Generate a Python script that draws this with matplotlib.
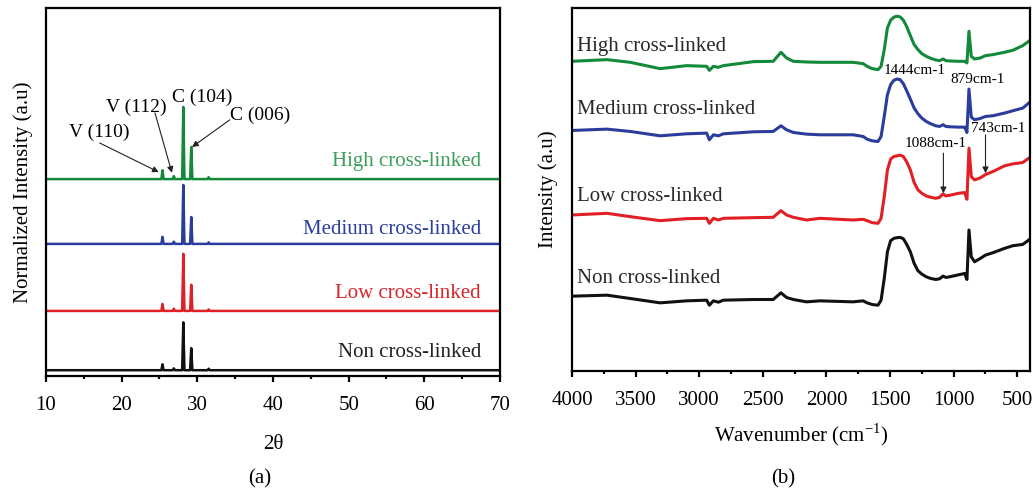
import numpy as np
import matplotlib
matplotlib.use("Agg")
import matplotlib.pyplot as plt
from matplotlib.ticker import MultipleLocator

plt.rcParams['font.family'] = ['Liberation Serif', 'DejaVu Serif']
plt.rcParams['mathtext.fontset'] = 'custom'
plt.rcParams['mathtext.rm'] = 'Liberation Serif'

samples = ['Non cross-linked', 'Low cross-linked', 'Medium cross-linked', 'High cross-linked']

# XRD: peak intensities on a sparse 2-theta grid (background = 0)
two_theta = [10, 25.25, 25.4, 25.55, 26.75, 26.9, 27.05, 28.0, 28.15, 28.3,
             29.05, 29.2, 29.35, 31.35, 31.5, 31.65, 70]
xrd_non = [0, 0, 1.6, 0, 0, 0.5, 0, 0, 13.0, 0, 0, 6.0, 0, 0, 0.4, 0, 0]
xrd_low = [0, 0, 1.9, 0, 0, 0.6, 0, 0, 15.5, 0, 0, 7.1, 0, 0, 0.4, 0, 0]
xrd_med = [0, 0, 1.9, 0, 0, 0.6, 0, 0, 16.0, 0, 0, 7.3, 0, 0, 0.4, 0, 0]
xrd_high = [0, 0, 2.4, 0, 0, 0.8, 0, 0, 19.6, 0, 0, 8.7, 0, 0, 0.5, 0, 0]

# FTIR spectra (stacked, a.u.)
wavenumber = [4000, 3725, 3542, 3307, 3098, 2941, 2920, 2888, 2849, 2810,
              2574, 2418, 2357, 2313, 2260, 2156, 2051, 1790, 1711, 1680,
              1640, 1594, 1570, 1545, 1520, 1495, 1470, 1445, 1420, 1395,
              1370, 1340, 1310, 1280, 1250, 1215, 1180, 1140, 1110, 1083,
              1060, 1031, 960, 913, 895, 879, 861, 835, 790, 749,
              691, 600, 534, 456, 409]
ftir_high = [927, 932, 924, 905, 914, 912, 900, 912, 909, 914,
             926, 927, 954, 937, 927, 925, 924, 924, 920, 912,
             905, 902, 912, 962, 1027, 1050, 1059, 1062, 1060, 1050,
             1032, 1004, 977, 962, 950, 942, 936, 931, 929, 934,
             929, 928, 927, 927, 922, 1017, 942, 934, 937, 944,
             947, 954, 960, 974, 987]
ftir_med = [720, 724, 717, 704, 710, 712, 692, 707, 704, 710,
            716, 717, 734, 722, 714, 709, 707, 707, 702, 694,
            689, 687, 702, 762, 827, 857, 870, 874, 872, 860,
            840, 814, 787, 770, 757, 747, 740, 734, 732, 737,
            732, 731, 730, 730, 714, 844, 760, 752, 756, 762,
            764, 772, 779, 787, 802]
ftir_low = [467, 472, 462, 450, 456, 457, 442, 457, 452, 457,
            459, 460, 480, 467, 460, 452, 457, 452, 454, 450,
            444, 442, 457, 522, 602, 634, 642, 644, 646, 642,
            627, 602, 564, 542, 532, 524, 520, 517, 520, 530,
            524, 526, 532, 534, 514, 667, 582, 572, 578, 588,
            597, 614, 620, 624, 637]
ftir_non = [224, 227, 217, 204, 210, 212, 197, 210, 206, 212,
            214, 214, 234, 220, 214, 207, 210, 207, 210, 204,
            199, 197, 212, 277, 357, 390, 397, 399, 400, 396,
            380, 357, 322, 300, 290, 282, 277, 274, 276, 284,
            280, 282, 288, 292, 274, 422, 342, 327, 337, 347,
            354, 367, 375, 379, 392]

line_colors = ['#111111', '#e02024', '#2a3c9c', '#13893a']
label_colors = ['#222222', '#d9262b', '#2b3f9e', '#3c9f5a']
xrd_offsets = [1.6, 17.7, 35.9, 53.5]
xrd_label_y = [6.5, 22.3, 39.7, 58.2]
ftir_label_y = [277, 522, 782, 972]

fig = plt.figure(figsize=(10.33, 4.91), dpi=100)
ax1 = fig.add_axes([0.0445, 0.234, 0.4395, 0.750])
ax2 = fig.add_axes([0.5537, 0.2444, 0.4433, 0.7396])

for ax in (ax1, ax2):
    for sp in ax.spines.values():
        sp.set_linewidth(1.6)
    ax.tick_params(axis='x', which='both', direction='out', width=1.6,
                   labelsize=15, top=False, pad=10)
    ax.tick_params(axis='x', which='major', length=4.5)
    ax.tick_params(axis='x', which='minor', length=2.5)
    ax.set_yticks([])

# (a) XRD
for y, off, c in zip([xrd_non, xrd_low, xrd_med, xrd_high], xrd_offsets, line_colors):
    ax1.plot(two_theta, np.array(y) + off, color=c, lw=1.8)
for name, ly, c in zip(samples, xrd_label_y, label_colors):
    ax1.text(67.5, ly, name, color=c, fontsize=15, ha='right', va='center')

ax1.set_xlim(10, 70)
ax1.set_ylim(0, 100)
ax1.xaxis.set_major_locator(MultipleLocator(10))
ax1.xaxis.set_minor_locator(MultipleLocator(5))
ax1.set_xlabel('2θ', fontsize=15, labelpad=14)
ax1.set_ylabel('Normalized Intensity (a.u)', fontsize=15, labelpad=9)

arrow_kw = dict(arrowstyle='-|>', color='#222222', lw=0.8, mutation_scale=9,
                shrinkA=0, shrinkB=0)
ax1.text(17.0, 66.3, 'V (110)', fontsize=14, ha='center', va='center')
ax1.annotate('', xy=(24.9, 55.4), xytext=(17.1, 63.3), arrowprops=arrow_kw)
ax1.text(22.0, 73.1, 'V (112)', fontsize=14, ha='center', va='center')
ax1.annotate('', xy=(26.65, 55.2), xytext=(24.4, 71.5), arrowprops=arrow_kw)
ax1.text(30.6, 75.8, 'C (104)', fontsize=14, ha='center', va='center')
ax1.text(38.3, 70.9, 'C (006)', fontsize=14, ha='center', va='center')
ax1.annotate('', xy=(29.3, 62.2), xytext=(34.3, 69.6), arrowprops=arrow_kw)

# (b) FTIR
for y, c in zip([ftir_non, ftir_low, ftir_med, ftir_high], line_colors):
    ax2.plot(wavenumber, y, color=c, lw=2.2, solid_joinstyle='round')
for name, ly in zip(samples, ftir_label_y):
    ax2.text(3960, ly, name, color='#2a2a2a', fontsize=15, ha='left', va='center')

ax2.text(1306, 900, '1444cm-1', fontsize=11, ha='center', va='center')
ax2.text(809, 872, '879cm-1', fontsize=11, ha='center', va='center')
ax2.text(652, 727, '743cm-1', fontsize=11, ha='center', va='center')
ax2.text(1144, 682, '1088cm-1', fontsize=11, ha='center', va='center')
ax2.annotate('', xy=(1080, 532), xytext=(1080, 652), arrowprops=arrow_kw)
ax2.annotate('', xy=(749, 592), xytext=(749, 707), arrowprops=arrow_kw)

ax2.set_xlim(4000, 400)
ax2.set_ylim(0, 1087)
ax2.xaxis.set_major_locator(MultipleLocator(500))
ax2.xaxis.set_minor_locator(MultipleLocator(250))
ax2.set_xlabel('Wavenumber (cm$^{-1}$)', fontsize=15, labelpad=8)
ax2.set_ylabel('Intensity (a.u)', fontsize=15, labelpad=10)

fig.text(0.2517, 0.0244, '(a)', fontsize=15, ha='center', va='center')
fig.text(0.758, 0.0244, '(b)', fontsize=15, ha='center', va='center')

fig.savefig('out.png', dpi=100)
